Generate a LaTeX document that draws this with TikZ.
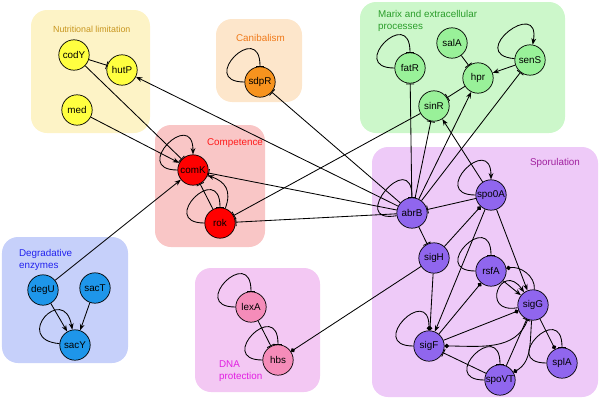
\documentclass[tikz,border=0pt]{standalone}
\usepackage{fontspec}
\setmainfont{Liberation Sans}
\usetikzlibrary{arrows.meta,positioning}

\definecolor{nutbg}{HTML}{FDF3C6}
\definecolor{nutfg}{HTML}{FFFF40}
\definecolor{nuttx}{HTML}{C8961E}
\definecolor{canbg}{HTML}{FDE6CB}
\definecolor{canfg}{HTML}{F7931E}
\definecolor{cantx}{HTML}{F07A1A}
\definecolor{matbg}{HTML}{CCF7CA}
\definecolor{matfg}{HTML}{99F199}
\definecolor{mattx}{HTML}{2A9D2A}
\definecolor{combg}{HTML}{F9C6C6}
\definecolor{comfg}{HTML}{FF0000}
\definecolor{comtx}{HTML}{FF1A1A}
\definecolor{degbg}{HTML}{C6D0FA}
\definecolor{degfg}{HTML}{1E96EA}
\definecolor{degtx}{HTML}{2222EE}
\definecolor{dnabg}{HTML}{F3C8F3}
\definecolor{dnafg}{HTML}{F58CB9}
\definecolor{dnatx}{HTML}{E21FE2}
\definecolor{spobg}{HTML}{EECAF8}
\definecolor{spofg}{HTML}{9066EE}
\definecolor{spotx}{HTML}{A0209E}

\begin{document}
\begin{tikzpicture}[x=0.25mm,y=-0.25mm,line width=0.6pt,
  gene/.style={circle,draw,line width=0.5pt,minimum size=7.6mm,inner sep=0pt,font=\fontsize{7}{7}\selectfont},
  grp/.style={rounded corners=4mm},
  lbl/.style={font=\fontsize{7}{8.6}\selectfont,align=left,anchor=west},
  act/.style={-{Stealth[length=1.6mm,width=1.2mm]}},
  rep/.style={-{Bar[width=2mm]}},
  bnd/.style={-{Circle[length=1.1mm]}},
  self/.style={out=180,in=90,looseness=5.5}]

\useasboundingbox (0,0) rectangle (600,400);

% groups
\fill[grp,fill=nutbg] (31,10) rectangle (150,133);
\fill[grp,fill=canbg] (216,19) rectangle (302,102);
\fill[grp,fill=matbg] (360,2) rectangle (565,133);
\fill[grp,fill=combg] (155,125) rectangle (265,247);
\fill[grp,fill=degbg] (2,237) rectangle (128,363);
\fill[grp,fill=dnabg] (195,268) rectangle (320,392);
\fill[grp,fill=spobg] (372,147) rectangle (598,397);

\node[lbl,text=nuttx,font=\fontsize{6.3}{7}\selectfont] (tnut) at (48,29) {Nutritional limitation};
\node[lbl,text=cantx] (tcan) at (231,38) {Canibalism};
\node[lbl,text=mattx] (tmat) at (373,21) {Marix and extracellular\\processes};
\node[lbl,text=comtx] (tcom) at (202,143) {Competence};
\node[lbl,text=degtx] (tdeg) at (14,260) {Degradative\\enzymes};
\node[lbl,text=dnatx] (tdna) at (214,371) {DNA\\protection};
\node[lbl,text=spotx] (tspo) at (525,163) {Sporulation};

% genes
\node[gene,fill=nutfg] (codY) at (74,55) {codY};
\node[gene,fill=nutfg] (hutP) at (122,70) {hutP};
\node[gene,fill=nutfg] (med)  at (77,110) {med};

\node[gene,fill=canfg] (sdpR) at (260,82) {sdpR};

\node[gene,fill=matfg] (fatR) at (410,68) {fatR};
\node[gene,fill=matfg] (salA) at (452,43) {salA};
\node[gene,fill=matfg] (senS) at (530,60) {senS};
\node[gene,fill=matfg] (hpr)  at (478,78) {hpr};
\node[gene,fill=matfg] (sinR) at (434,106) {sinR};

\node[gene,fill=comfg] (comK) at (193,170) {comK};
\node[gene,fill=comfg] (rok)  at (220,223) {rok};

\node[gene,fill=degfg] (degU) at (43,290) {degU};
\node[gene,fill=degfg] (sacT) at (95,288) {sacT};
\node[gene,fill=degfg] (sacY) at (75,345) {sacY};

\node[gene,fill=dnafg] (lexA) at (251,307) {lexA};
\node[gene,fill=dnafg] (hbs)  at (278,360) {hbs};

\node[gene,fill=spofg] (abrB)  at (412,213) {abrB};
\node[gene,fill=spofg] (spo0A) at (491,195) {spo0A};
\node[gene,fill=spofg] (sigH)  at (434,258) {sigH};
\node[gene,fill=spofg] (rsfA)  at (491,271) {rsfA};
\node[gene,fill=spofg] (sigG)  at (533,305) {sigG};
\node[gene,fill=spofg] (sigF)  at (429,346) {sigF};
\node[gene,fill=spofg] (spoVT) at (500,380) {spoVT};
\node[gene,fill=spofg] (splA)  at (562,363) {splA};

% nutritional limitation
\path (codY) edge[rep] (hutP)
      (codY) edge[rep] (comK)
      (med)  edge[act] (comK)
      (abrB) edge[act] (hutP);

% canibalism
\path (sdpR) edge[rep,self] (sdpR)
      (abrB) edge[rep] (sdpR);

% matrix
\path (fatR) edge[rep,self] (fatR)
      (senS) edge[act,self,out=175,in=80] (senS)
      (salA) edge[rep] (hpr)
      (senS) edge[act] (hpr)
      (hpr)  edge[rep] (sinR)
      (abrB) edge[rep] (fatR)
      (abrB) edge[rep] (sinR)
      (abrB) edge[act] (hpr)
      (abrB) edge[rep] (senS)
      (spo0A) edge[act] (sinR)
      (sinR) edge[rep] (rok);

% competence
\path (comK) edge[act,self] (comK)
      (rok)  edge[rep,self] (rok)
      (rok)  edge[rep] (comK)
      (rok)  edge[act,out=70,in=-20,looseness=1.3] (comK)
      (abrB) edge[rep] (comK)
      (abrB) edge[rep] (rok)
      (degU) edge[act] (comK);

% degradative enzymes
\path (degU) edge[act] (sacY)
      (sacT) edge[act] (sacY)
      (sacY) edge[act,self,out=175,in=100,looseness=6.5] (sacY);

% dna protection
\path (lexA) edge[rep,self] (lexA)
      (lexA) edge[rep] (hbs)
      (hbs)  edge[rep,self] (hbs)
      (sigH) edge[bnd] (hbs);

% sporulation
\path (abrB)  edge[rep,self,out=190] (abrB)
      (spo0A) edge[act,self] (spo0A)
      (spo0A) edge[rep] (abrB)
      (abrB)  edge[rep] (sigH)
      (sigH)  edge[bnd] (spo0A)
      (sigH)  edge[bnd] (sigF)
      (spo0A) edge[act] (sigF)
      (spo0A) edge[act] (sigG)
      (rsfA)  edge[rep,self] (rsfA)
      (rsfA)  edge[act] (sigG)
      (sigF)  edge[bnd] (rsfA)
      (sigG)  edge[bnd,out=85,in=10] (rsfA)
      (sigG)  edge[act,out=190,in=125,looseness=6] (sigG)
      (sigF)  edge[bnd] (sigG)
      (sigG)  edge[bnd,out=250,in=0] (sigF)
      (spoVT) edge[rep] (sigG)
      (sigG)  edge[bnd,out=265,in=30] (spoVT)
      (spoVT) edge[rep] (sigF)
      (spoVT) edge[rep,self] (spoVT)
      (sigG)  edge[bnd] (splA)
      (splA)  edge[rep,self] (splA)
      (sigF)  edge[bnd,self] (sigF);
\end{tikzpicture}
\end{document}
